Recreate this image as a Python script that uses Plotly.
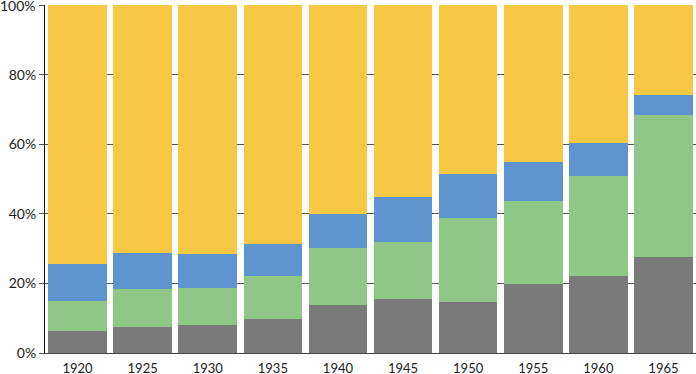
import plotly.graph_objects as go

years = ["1920", "1925", "1930", "1935", "1940", "1945", "1950", "1955", "1960", "1965"]
# segment shares (%), bottom to top
gray = [6.3, 7.6, 8.0, 9.7, 13.9, 15.4, 14.6, 19.7, 22.2, 27.5]
green = [8.7, 10.7, 10.8, 12.4, 16.3, 16.6, 24.2, 24.1, 28.7, 40.9]
blue = [10.7, 10.4, 9.6, 9.3, 9.9, 12.9, 12.8, 11.0, 9.4, 5.9]
yellow = [74.3, 71.3, 71.6, 68.6, 59.9, 55.1, 48.4, 45.2, 39.7, 25.7]
tick_vals = [0, 20, 40, 60, 80, 100]
tick_text = ["0%", "20%", "40%", "60%", "80%", "100%"]

series = [
    ("Gray", gray, "#7a7a7a"),
    ("Green", green, "#8fc787"),
    ("Blue", blue, "#5f95cf"),
    ("Yellow", yellow, "#f6c844"),
]

fig = go.Figure()
for name, vals, color in series:
    fig.add_trace(go.Bar(x=years, y=vals, name=name, marker_color=color,
                         marker_line_width=0))

fig.update_layout(
    barmode="stack",
    bargap=0.1,
    width=696, height=374,
    margin=dict(l=45, r=0, t=5, b=21),
    paper_bgcolor="white", plot_bgcolor="white",
    showlegend=False,
    font=dict(family="Lato, sans-serif", size=14, color="#222"),
)
fig.update_xaxes(showgrid=False, showline=True, linecolor="#444", linewidth=1,
                 ticks="outside", ticklen=3, tickcolor="rgba(0,0,0,0)",
                 tickfont=dict(size=13), automargin=False)
# the top label would be hidden by plotly as overflowing, so draw it as an annotation
shown_text = [t if v != 100 else "" for v, t in zip(tick_vals, tick_text)]
fig.update_yaxes(range=[0, 100.05], tickvals=tick_vals, ticktext=shown_text,
                 showgrid=True, gridcolor="#555", gridwidth=1,
                 showline=True, linecolor="#111", linewidth=1,
                 ticks="outside", ticklen=5, tickcolor="#555",
                 zeroline=False, tickfont=dict(size=14), automargin=False)
fig.add_annotation(x=0, xref="paper", y=tick_vals[-1], yref="y",
                   text=tick_text[-1], showarrow=False, xanchor="right",
                   yanchor="middle", xshift=-7, font=dict(size=14, color="#222"))

fig.write_html("out.html", config={"displayModeBar": False})
with open("out.html", "r", encoding="utf-8") as f:
    html = f.read()
html = html.replace("<head>", "<head><style>html,body{margin:0;padding:0;}</style>", 1)
with open("out.html", "w", encoding="utf-8") as f:
    f.write(html)
